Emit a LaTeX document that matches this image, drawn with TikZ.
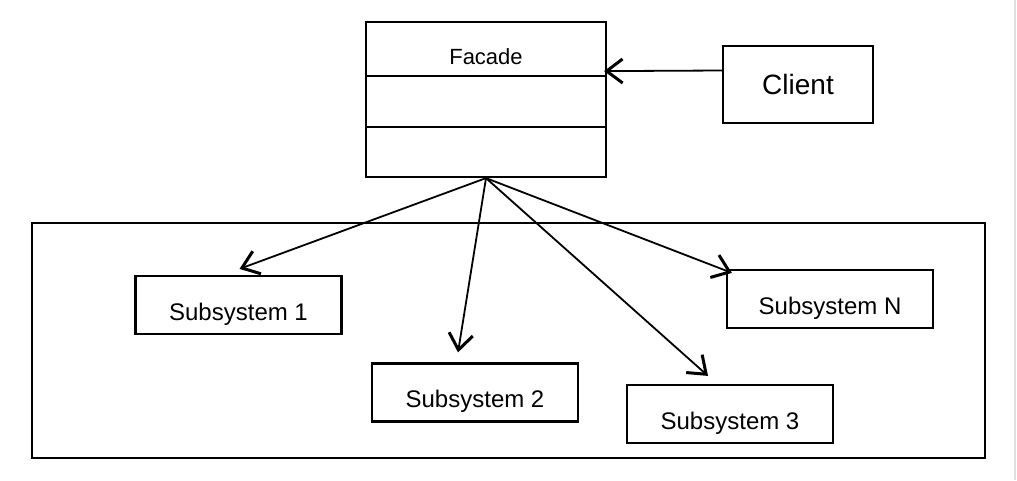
\documentclass[tikz,border=0pt]{standalone}
\usepackage{fontspec}
\setmainfont{Liberation Sans}
\usetikzlibrary{arrows.meta}

\tikzset{
    umlbox/.style={draw, line width=2.2pt, inner sep=0pt},
    subbox/.style={umlbox, minimum width=206pt, minimum height=58pt, text height=30pt, text depth=0pt, font=\fontsize{24}{26}\selectfont},
    arr/.style={line width=1.8pt, -{Straight Barb[length=16pt,width=24pt,line width=3pt]}}
}

\begin{document}
\begin{tikzpicture}[x=1pt, y=-1pt]
    \useasboundingbox (0,0) rectangle (1017,480);
    \fill[white] (0,0) rectangle (1017,480);
    \draw[gray!25, line width=1.5pt] (1015,0) -- (1015,480);

    % facade class with its three compartments
    \node[umlbox, minimum width=240pt, minimum height=54pt, text height=31pt, text depth=0pt, font=\fontsize{22}{24}\selectfont] (fTop) at (486,49) {Facade};
    \node[umlbox, minimum width=240pt, minimum height=51pt] (fMid) at (486,101.5) {};
    \node[umlbox, minimum width=240pt, minimum height=50pt] (fBot) at (486,152) {};

    \node[umlbox, minimum width=150pt, minimum height=77pt, font=\fontsize{28}{30}\selectfont] (cl) at (798,84.5) {Client};
    \draw[arr] ([yshift=14pt]cl.west) -- ([shift={(-3,-6)}]fTop.south east);

    % the subsystem package
    \node[umlbox, minimum width=953pt, minimum height=235pt] (pkg) at (508.5,340.5) {};

    \foreach \n/\x/\y/\t in {s1/238.5/305/1, s2/475/392.5/2, s3/730/414/3, sN/830/299/N} {
        \node[subbox] (\n) at (\x,\y) {Subsystem \t};
    }

    \draw[arr] (fBot.south) -- ([shift={(1,-6)}]s1.north);
    \draw[arr] (fBot.south) -- ([shift={(-17,-10)}]s2.north);
    \draw[arr] (fBot.south) -- ([shift={(-22,-8)}]s3.north);
    \draw[arr] (fBot.south) -- ([shift={(6,4)}]sN.north west);
\end{tikzpicture}
\end{document}
